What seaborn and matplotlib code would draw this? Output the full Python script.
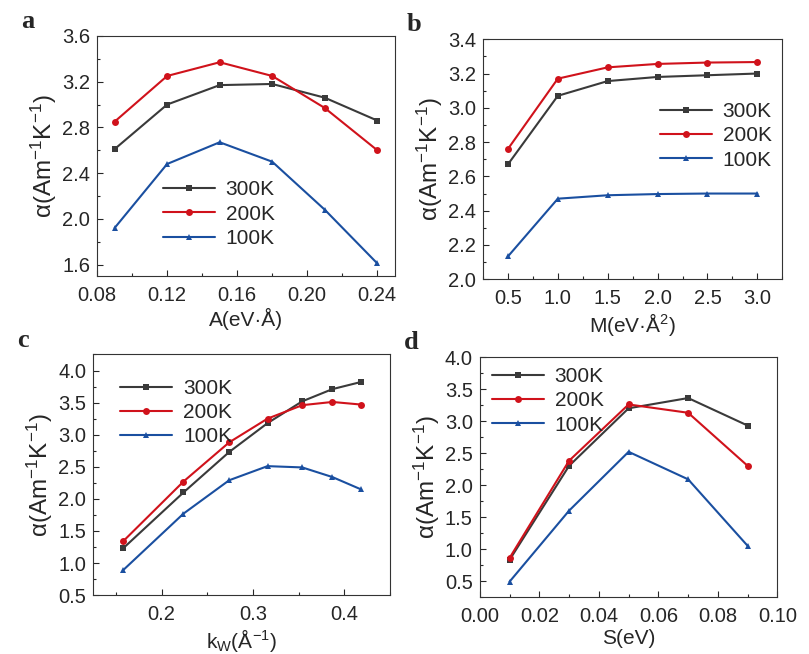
import numpy as np
import pandas as pd
import seaborn as sns
import matplotlib
matplotlib.use("Agg")
import matplotlib.pyplot as plt
from matplotlib.ticker import MultipleLocator, FormatStrFormatter

sns.set_style("ticks")
plt.rcParams['font.family'] = ['Liberation Sans', 'DejaVu Sans']
plt.rcParams['mathtext.fontset'] = 'custom'
plt.rcParams['mathtext.rm'] = 'Liberation Sans'
plt.rcParams['mathtext.it'] = 'Liberation Sans:italic'

temps = ["300K", "200K", "100K"]

# panel a
a_x = [0.09, 0.12, 0.15, 0.18, 0.21, 0.24]
a_300 = [2.61, 3.00, 3.17, 3.18, 3.06, 2.86]
a_200 = [2.85, 3.25, 3.37, 3.25, 2.97, 2.60]
a_100 = [1.92, 2.48, 2.67, 2.50, 2.08, 1.61]

# panel b
b_x = [0.5, 1.0, 1.5, 2.0, 2.5, 3.0]
b_300 = [2.67, 3.07, 3.156, 3.18, 3.19, 3.20]
b_200 = [2.76, 3.17, 3.236, 3.256, 3.264, 3.267]
b_100 = [2.133, 2.47, 2.49, 2.497, 2.50, 2.50]

# panel c
c_x = [0.158, 0.224, 0.274, 0.316, 0.354, 0.387, 0.418]
c_300 = [1.23, 2.10, 2.73, 3.18, 3.52, 3.71, 3.82]
c_200 = [1.34, 2.27, 2.88, 3.25, 3.46, 3.51, 3.47]
c_100 = [0.89, 1.77, 2.29, 2.51, 2.49, 2.34, 2.15]

# panel d
d_x = [0.01, 0.03, 0.05, 0.07, 0.09]
d_300 = [0.83, 2.30, 3.20, 3.36, 2.93]
d_200 = [0.86, 2.38, 3.26, 3.13, 2.30]
d_100 = [0.49, 1.60, 2.52, 2.09, 1.05]

colors = {"300K": "#3a3a3a", "200K": "#d0121b", "100K": "#1a4fa0"}
markers = {"300K": "s", "200K": "o", "100K": "^"}


def make_df(x, s300, s200, s100):
    rows = []
    for t, vals in zip(temps, [s300, s200, s100]):
        for xi, yi in zip(x, vals):
            rows.append({"x": xi, "y": yi, "T": t})
    return pd.DataFrame(rows)


fig = plt.figure(figsize=(8.09, 6.54), dpi=100)

panels = [
    dict(data=make_df(a_x, a_300, a_200, a_100), pos=[0.120, 0.578, 0.368, 0.367],
         xlim=(0.08, 0.25), ylim=(1.5, 3.6), xmaj=0.04, xmin=0.02, ymaj=0.4, ymin=0.2,
         xfmt="%.2f", yfmt="%.1f", xlabel="A(eV·Å)", letter="a",
         leg=(0.18, 0.45)),
    dict(data=make_df(b_x, b_300, b_200, b_100), pos=[0.597, 0.573, 0.370, 0.367],
         xlim=(0.25, 3.25), ylim=(2.0, 3.4), xmaj=0.5, xmin=0.25, ymaj=0.2, ymin=0.1,
         xfmt="%.1f", yfmt="%.1f", xlabel="M(eV·Å$^{2}$)", letter="b",
         leg=(0.55, 0.79)),
    dict(data=make_df(c_x, c_300, c_200, c_100), pos=[0.115, 0.090, 0.367, 0.368],
         xlim=(0.125, 0.45), ylim=(0.5, 4.25), xmaj=0.1, xmin=0.05, ymaj=0.5, ymin=0.25,
         xfmt="%.1f", yfmt="%.1f", xlabel="k$_{\\mathrm{W}}$(Å$^{-1}$)", letter="c",
         leg=(0.05, 0.95)),
    dict(data=make_df(d_x, d_300, d_200, d_100), pos=[0.593, 0.087, 0.368, 0.367],
         xlim=(0.0, 0.10), ylim=(0.25, 4.0), xmaj=0.02, xmin=0.01, ymaj=0.5, ymin=0.25,
         xfmt="%.2f", yfmt="%.1f", xlabel="S(eV)", letter="d",
         leg=(0.0, 1.01)),
]

for p in panels:
    ax = fig.add_axes(p["pos"])
    sns.lineplot(data=p["data"], x="x", y="y", hue="T", style="T",
                 palette=colors, markers=markers, dashes=False,
                 markersize=5, linewidth=1.5, markeredgewidth=0, ax=ax)
    ax.set_xlim(*p["xlim"])
    ax.set_ylim(*p["ylim"])
    ax.xaxis.set_major_locator(MultipleLocator(p["xmaj"]))
    ax.xaxis.set_minor_locator(MultipleLocator(p["xmin"]))
    ax.yaxis.set_major_locator(MultipleLocator(p["ymaj"]))
    ax.yaxis.set_minor_locator(MultipleLocator(p["ymin"]))
    ax.xaxis.set_major_formatter(FormatStrFormatter(p["xfmt"]))
    ax.yaxis.set_major_formatter(FormatStrFormatter(p["yfmt"]))
    ax.tick_params(which="both", direction="in", labelsize=14.5, width=0.8)
    ax.tick_params(axis="x", which="major", pad=7)
    ax.tick_params(axis="y", which="major", pad=5)
    ax.tick_params(which="major", length=4)
    ax.tick_params(which="minor", length=2.5)
    for s in ax.spines.values():
        s.set_linewidth(0.8)
        s.set_color("#333333")
    ax.set_xlabel(p["xlabel"], fontsize=15, labelpad=2)
    ax.set_ylabel("α(Am$^{-1}$K$^{-1}$)", fontsize=17.5, labelpad=2)
    ax.legend(loc="upper left", bbox_to_anchor=p["leg"], frameon=False,
              fontsize=15, handlelength=2.5, handletextpad=0.5,
              labelspacing=0.25, borderaxespad=0.2)
    ax.text(-0.255, 1.06, p["letter"], transform=ax.transAxes, fontsize=19,
            fontweight="bold", family="Liberation Serif", va="center")

fig.savefig("out.png", dpi=100)
